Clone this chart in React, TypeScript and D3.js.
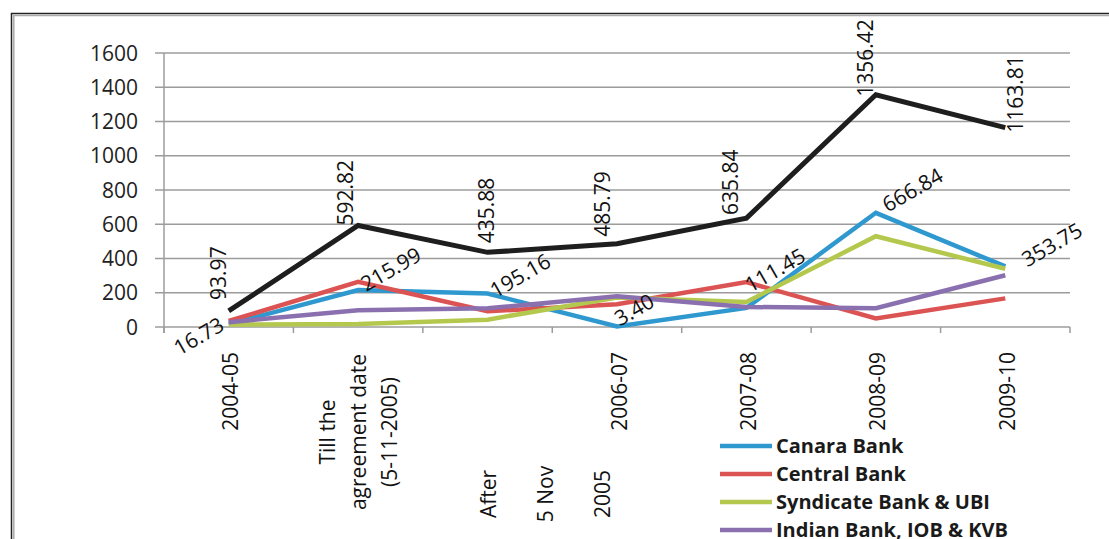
import React, { useEffect, useRef } from "react";
import * as d3 from "d3";

// categories (x axis), one entry per period
const categories = [
  "2004-05",
  "Till the agreement date (5-11-2005)",
  "After 5 Nov 2005",
  "2006-07",
  "2007-08",
  "2008-09",
  "2009-10",
];
const tickLines = [
  ["2004-05"],
  ["Till the", "agreement date", "(5-11-2005)"],
  ["After", "5 Nov", "2005"],
  ["2006-07"],
  ["2007-08"],
  ["2008-09"],
  ["2009-10"],
];

const seriesNames = ["Canara Bank", "Central Bank", "Syndicate Bank & UBI", "Indian Bank, IOB & KVB", "Total"];
const canara = [16.73, 215.99, 195.16, 3.4, 111.45, 666.84, 353.75];
const central = [35, 264, 92, 133, 262, 50, 167];
const syndicate = [14, 18, 43, 172, 146, 530, 340];
const indian = [28, 98, 109, 180, 117, 110, 302];
const total = [93.97, 592.82, 435.88, 485.79, 635.84, 1356.42, 1163.81];

const yTicks = [0, 200, 400, 600, 800, 1000, 1200, 1400, 1600];

const colors = ["#2E98CF", "#DC5353", "#B5C84E", "#8B70B0", "#1E1E1E"];

// hand placed label nudges, as in the original sheet
const totalNudge = [[-3, -11], [-5, 0], [6, -9], [-7, -7], [-8, -3], [-3, 2], [18, 5]];
const canaraNudge = [[-3, 5], [8, 2], [8, 5], [3, 0], [4, -15], [12, 0], [22, 1]];
const tickLayout = [
  { cy: null, dx0: 2, gap: 0 },
  { cy: 432, dx0: -31, gap: 31 },
  { cy: 494, dx0: 1, gap: 57 },
];

const W = 1109;
const H = 539;
const FONT = "'Open Sans', sans-serif";

export default function App() {
  const ref = useRef<SVGSVGElement>(null);

  useEffect(() => {
    const svg = d3.select(ref.current);
    svg.selectAll("*").remove();

    const margin = { top: 53, left: 164, right: 1070, bottom: 327 };

    const x = d3.scaleBand().domain(categories).range([margin.left, margin.right]);
    const y = d3.scaleLinear().domain([0, 1600]).range([margin.bottom, margin.top]);
    const cx = (c: string) => (x(c) as number) + x.bandwidth() / 2;

    svg.append("rect").attr("width", W).attr("height", H).attr("fill", "#fff");

    // chart frame (double line, runs off the page right and bottom)
    svg.append("path")
      .attr("d", `M11.5,${H + 5}V13.5H${W + 5}`)
      .attr("fill", "none").attr("stroke", "#222").attr("stroke-width", 1.5);
    svg.append("path")
      .attr("d", `M13.8,${H + 5}V15.5H${W + 5}`)
      .attr("fill", "none").attr("stroke", "#aaa").attr("stroke-width", 1.5);

    // gridlines + y labels
    const grid = svg.append("g");
    yTicks.forEach((t) => {
      grid.append("line")
        .attr("x1", margin.left - 9).attr("x2", margin.right)
        .attr("y1", y(t)).attr("y2", y(t))
        .attr("stroke", "#9c9c9c").attr("stroke-width", 1.5);
      grid.append("text")
        .attr("x", 138).attr("y", y(t)).attr("dy", "0.36em")
        .attr("text-anchor", "end")
        .attr("font-family", FONT).attr("font-size", 21).attr("fill", "#222")
        .text(t);
    });
    grid.append("line")
      .attr("x1", margin.left).attr("x2", margin.left)
      .attr("y1", y(1600)).attr("y2", y(0) + 6)
      .attr("stroke", "#9c9c9c").attr("stroke-width", 1.5);
    const bounds = categories.map((c) => x(c) as number).concat([margin.right]);
    bounds.forEach((b) => {
      grid.append("line")
        .attr("x1", b).attr("x2", b)
        .attr("y1", y(0)).attr("y2", y(0) + 6)
        .attr("stroke", "#9c9c9c").attr("stroke-width", 1.5);
    });

    // x tick labels, rotated
    const ticks = svg.append("g")
      .attr("font-family", FONT).attr("font-size", 21).attr("fill", "#111");
    tickLines.forEach((lines, i) => {
      const px = cx(categories[i]);
      const lay = tickLayout[i] || tickLayout[0];
      lines.forEach((ln, j) => {
        const tx = px + lay.dx0 + j * lay.gap;
        const ty = lay.cy === null ? 352 : lay.cy;
        ticks.append("text")
          .attr("transform", `translate(${tx},${ty}) rotate(-90)`)
          .attr("text-anchor", lay.cy === null ? "end" : "middle")
          .attr("dy", "0.36em")
          .text(ln);
      });
    });

    // series lines
    const all = [canara, central, syndicate, indian, total];
    const line = d3.line<number>()
      .x((d, i) => cx(categories[i]))
      .y((d) => y(d));
    all.forEach((s, k) => {
      svg.append("path")
        .datum(s)
        .attr("fill", "none")
        .attr("stroke", colors[k])
        .attr("stroke-width", k === 4 ? 5 : 4.5)
        .attr("stroke-linejoin", "miter")
        .attr("d", line);
    });

    // data labels
    const labels = svg.append("g")
      .attr("font-family", FONT).attr("font-size", 21).attr("fill", "#111");
    total.forEach((v, i) => {
      const [dx, dy] = totalNudge[i];
      labels.append("text")
        .attr("transform", `translate(${cx(categories[i]) + dx},${y(v) + dy}) rotate(-90)`)
        .attr("text-anchor", "start")
        .text(v.toFixed(2));
    });
    canara.forEach((v, i) => {
      const [dx, dy] = canaraNudge[i];
      labels.append("text")
        .attr("transform", `translate(${cx(categories[i]) + dx},${y(v) + dy}) rotate(-30)`)
        .attr("text-anchor", i === 0 ? "end" : "start")
        .text(v.toFixed(2));
    });

    // legend
    const legend = svg.append("g").attr("transform", "translate(720,446)");
    seriesNames.forEach((name, k) => {
      const g = legend.append("g").attr("transform", `translate(0,${k * 28})`);
      g.append("line")
        .attr("x1", 0).attr("x2", 52).attr("y1", 0).attr("y2", 0)
        .attr("stroke", colors[k]).attr("stroke-width", 4.5);
      g.append("text")
        .attr("x", 56).attr("dy", "0.36em")
        .attr("font-family", FONT).attr("font-size", 20).attr("font-weight", "bold")
        .attr("fill", "#1a1a1a")
        .text(name);
    });
  }, []);

  return (
    <div style={{ position: "absolute", left: 0, top: 0, width: W, height: H, overflow: "hidden" }}>
      <svg ref={ref} width={W} height={H} />
    </div>
  );
}
